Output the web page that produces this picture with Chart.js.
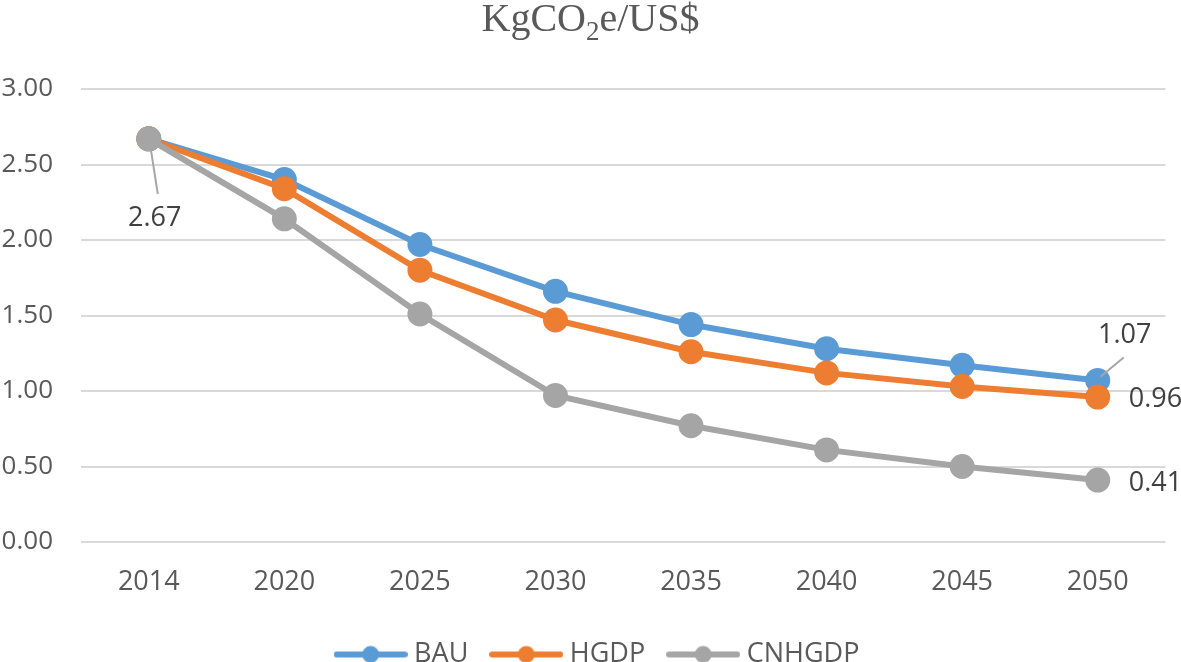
<!DOCTYPE html>
<html>
<head>
<meta charset="utf-8">
<script src="https://cdn.jsdelivr.net/npm/chart.js@4.4.1/dist/chart.umd.min.js"></script>
<style>
    html, body { margin: 0; padding: 0; background: #fff; }
    #wrap { width: 1181px; height: 662px; position: relative; }
</style>
</head>
<body>
<div id="wrap"><canvas id="emissionChart"></canvas></div>
<script>
// Data
const years = ['2014', '2020', '2025', '2030', '2035', '2040', '2045', '2050'];
const bau = [2.67, 2.40, 1.97, 1.66, 1.44, 1.28, 1.17, 1.07];
const hgdp = [2.67, 2.34, 1.80, 1.47, 1.26, 1.12, 1.03, 0.96];
const cnhgdp = [2.67, 2.14, 1.51, 0.97, 0.77, 0.61, 0.50, 0.41];

const textColor = '#595959';
const font = "'Open Sans', sans-serif";

// legend swatch: line with a dot in the middle
function makeSwatch(color) {
    const c = document.createElement('canvas');
    c.width = 74;
    c.height = 20;
    const g = c.getContext('2d');
    g.strokeStyle = color;
    g.lineWidth = 6;
    g.lineCap = 'round';
    g.beginPath();
    g.moveTo(3, 10);
    g.lineTo(71, 10);
    g.stroke();
    g.fillStyle = color;
    g.beginPath();
    g.arc(37, 10, 8.5, 0, Math.PI * 2);
    g.fill();
    return c;
}

// Title with subscript 2
const titlePlugin = {
    id: 'subTitle',
    afterDraw(chart) {
        const ctx = chart.ctx;
        ctx.save();
        ctx.fillStyle = textColor;
        ctx.textBaseline = 'alphabetic';
        const big = "40px 'Liberation Serif', serif";
        const small = "27px 'Liberation Serif', serif";
        ctx.font = big;
        const w1 = ctx.measureText('KgCO').width;
        const w3 = ctx.measureText('e/US$').width;
        ctx.font = small;
        const w2 = ctx.measureText('2').width;
        let x = chart.width / 2 - (w1 + w2 + w3) / 2;
        const y = 31;
        ctx.font = big;
        ctx.fillText('KgCO', x, y);
        x += w1;
        ctx.font = small;
        ctx.fillText('2', x, y + 9);
        x += w2;
        ctx.font = big;
        ctx.fillText('e/US$', x, y);
        ctx.restore();
    }
};

// nudge the legend a little to the right, as in the original
const legendShift = {
    id: 'legendShift',
    afterLayout(chart) {
        chart.legend.left += 17;
        chart.legend.right += 17;
    }
};

// Data labels (some with leader lines)
const labelSpecs = [
    { ds: 2, i: 0, dx: 6, dy: 79, align: 'center', leader: [2, 10, 9, 55] },
    { ds: 0, i: 7, dx: 27, dy: -45, align: 'center', leader: [3, -4, 26, -23] },
    { ds: 1, i: 7, dx: 31, dy: 2, align: 'left' },
    { ds: 2, i: 7, dx: 31, dy: 3, align: 'left' }
];

const labelPlugin = {
    id: 'pointLabels',
    afterDatasetsDraw(chart) {
        const ctx = chart.ctx;
        ctx.save();
        labelSpecs.forEach(s => {
            const pt = chart.getDatasetMeta(s.ds).data[s.i];
            const value = chart.data.datasets[s.ds].data[s.i];
            if (s.leader) {
                ctx.strokeStyle = '#A6A6A6';
                ctx.lineWidth = 2;
                ctx.beginPath();
                ctx.moveTo(pt.x + s.leader[0], pt.y + s.leader[1]);
                ctx.lineTo(pt.x + s.leader[2], pt.y + s.leader[3]);
                ctx.stroke();
            }
            ctx.fillStyle = '#404040';
            ctx.font = "27px " + font;
            ctx.textAlign = s.align;
            ctx.textBaseline = 'middle';
            ctx.fillText(value.toFixed(2), pt.x + s.dx, pt.y + s.dy);
        });
        ctx.restore();
    }
};

function series(label, data, color, order) {
    return {
        label: label,
        data: data,
        borderColor: color,
        backgroundColor: color,
        pointBackgroundColor: color,
        pointBorderColor: color,
        borderWidth: 6,
        pointRadius: 9.5,
        pointHoverRadius: 9.5,
        tension: 0,
        order: order,
        pointStyle: 'circle',
        legendSwatch: makeSwatch(color)
    };
}

const ctx = document.getElementById('emissionChart').getContext('2d');
const emissionChart = new Chart(ctx, {
    type: 'line',
    data: {
        labels: years,
        datasets: [
            series('BAU', bau, '#5B9BD5', 2),
            series('HGDP', hgdp, '#ED7D31', 1),
            series('CNHGDP', cnhgdp, '#A5A5A5', 0)
        ]
    },
    options: {
        responsive: true,
        maintainAspectRatio: false,
        animation: false,
        layout: {
            padding: { top: 89, right: 15, bottom: -16, left: 0 }
        },
        plugins: {
            title: { display: false },
            tooltip: { enabled: false },
            legend: {
                position: 'bottom',
                reverse: true,
                labels: {
                    usePointStyle: true,
                    pointStyleWidth: 60,
                    padding: 28,
                    color: textColor,
                    font: { family: font, size: 27 },
                    generateLabels(chart) {
                        return chart.data.datasets.map((d, i) => ({
                            text: d.label,
                            fillStyle: d.borderColor,
                            strokeStyle: d.borderColor,
                            fontColor: textColor,
                            lineWidth: 0,
                            pointStyle: d.legendSwatch,
                            hidden: false,
                            datasetIndex: i
                        })).reverse();
                    }
                }
            }
        },
        scales: {
            x: {
                offset: true,
                grid: { display: false },
                border: { display: false },
                ticks: {
                    color: textColor,
                    padding: 16,
                    font: { family: font, size: 27 }
                },
                afterFit(scale) { scale.height = 71; }
            },
            y: {
                min: 0,
                max: 3,
                ticks: {
                    stepSize: 0.5,
                    color: textColor,
                    padding: 28,
                    font: { family: font, size: 26 },
                    callback: v => v.toFixed(2)
                },
                grid: { color: '#D9D9D9', lineWidth: 2, drawTicks: false },
                border: { display: false },
                afterFit(scale) { scale.width = 81; }
            }
        }
    },
    plugins: [labelPlugin, titlePlugin, legendShift]
});
</script>
</body>
</html>
